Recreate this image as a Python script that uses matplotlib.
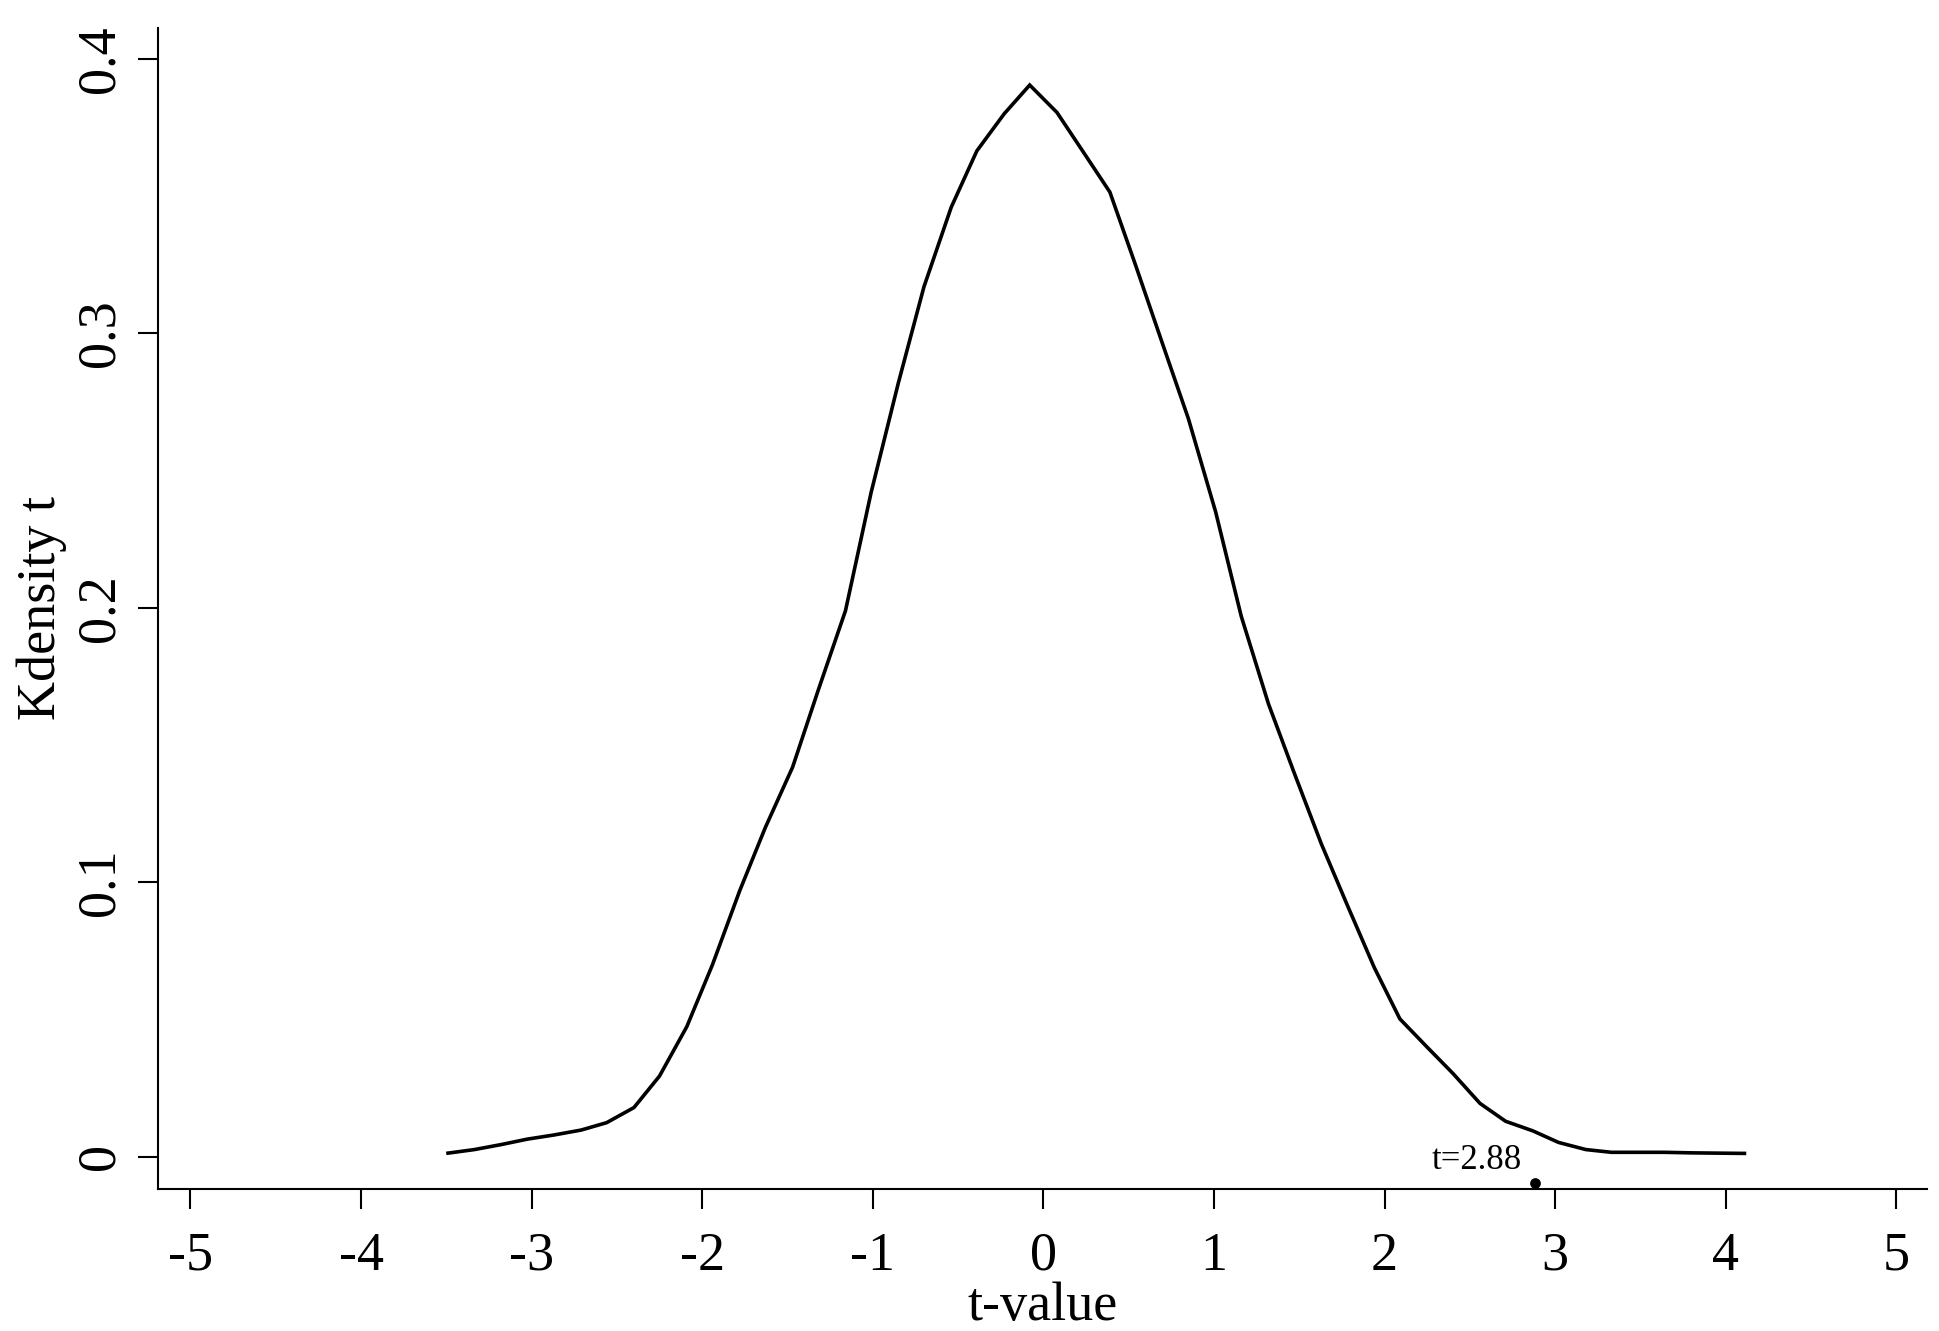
import matplotlib
matplotlib.use("Agg")
import matplotlib.pyplot as plt

# Kernel density estimate of t-values
t_grid = [-3.49, -3.335, -3.18, -3.025, -2.87, -2.71, -2.56, -2.40, -2.25, -2.09,
          -1.94, -1.78, -1.63, -1.47, -1.32, -1.16, -1.01, -0.85, -0.70, -0.54,
          -0.39, -0.23, -0.08, 0.08, 0.23, 0.39, 0.54, 0.70, 0.85, 1.01,
          1.16, 1.32, 1.47, 1.63, 1.78, 1.94, 2.09, 2.25, 2.40, 2.56,
          2.71, 2.87, 3.02, 3.18, 3.33, 3.49, 3.64, 3.80, 3.95, 4.11]
density = [0.0014, 0.0027, 0.0045, 0.0065, 0.0080, 0.0098, 0.0125, 0.0180, 0.0295, 0.0475,
           0.0700, 0.0970, 0.1200, 0.1420, 0.1700, 0.1990, 0.2420, 0.2820, 0.3170, 0.3460,
           0.3665, 0.3800, 0.3905, 0.3805, 0.3665, 0.3515, 0.3250, 0.2960, 0.2690, 0.2350,
           0.1970, 0.1650, 0.1400, 0.1140, 0.0920, 0.0690, 0.0503, 0.0400, 0.0305, 0.0195,
           0.0130, 0.0095, 0.0053, 0.0027, 0.0017, 0.0017, 0.0017, 0.0015, 0.0014, 0.0013]

obs_t = 2.88
obs_y = -0.0095
obs_label = "t=2.88"

x_ticks = [-5, -4, -3, -2, -1, 0, 1, 2, 3, 4, 5]
x_ticklabels = ["-5", "-4", "-3", "-2", "-1", "0", "1", "2", "3", "4", "5"]
y_ticks = [0, 0.1, 0.2, 0.3, 0.4]
y_ticklabels = ["0", "0.1", "0.2", "0.3", "0.4"]

plt.rcParams['font.family'] = ['Liberation Serif', 'DejaVu Serif']

fig = plt.figure(figsize=(19.39, 13.31), dpi=100)
ax = fig.add_axes([0.0815, 0.1067, 0.9123, 0.8723])

ax.plot(t_grid, density, color='black', lw=2.6, solid_joinstyle='miter')
ax.scatter([obs_t], [obs_y], s=45, color='black', zorder=5, clip_on=False)
ax.annotate(obs_label, xy=(obs_t, obs_y), xytext=(-9, 10), textcoords='offset points',
            ha='right', va='baseline', fontsize=25, color='black')

ax.set_xlim(-5.19, 5.18)
ax.set_ylim(-0.01166, 0.4113)
ax.set_xticks(x_ticks)
ax.set_xticklabels(x_ticklabels)
ax.set_yticks(y_ticks)
ax.set_yticklabels(y_ticklabels, rotation=90, va='center')

for s in ['top', 'right']:
    ax.spines[s].set_visible(False)
for s in ['left', 'bottom']:
    ax.spines[s].set_linewidth(1.5)

ax.tick_params(axis='both', direction='out', length=14.4, width=1.5, labelsize=39, colors='black')
ax.tick_params(axis='x', pad=16)
ax.tick_params(axis='y', pad=9)

ax.set_xlabel("t-value", fontsize=39, labelpad=0)
ax.set_ylabel("Kdensity t", fontsize=39, labelpad=6)

fig.savefig("out.png", dpi=100)
